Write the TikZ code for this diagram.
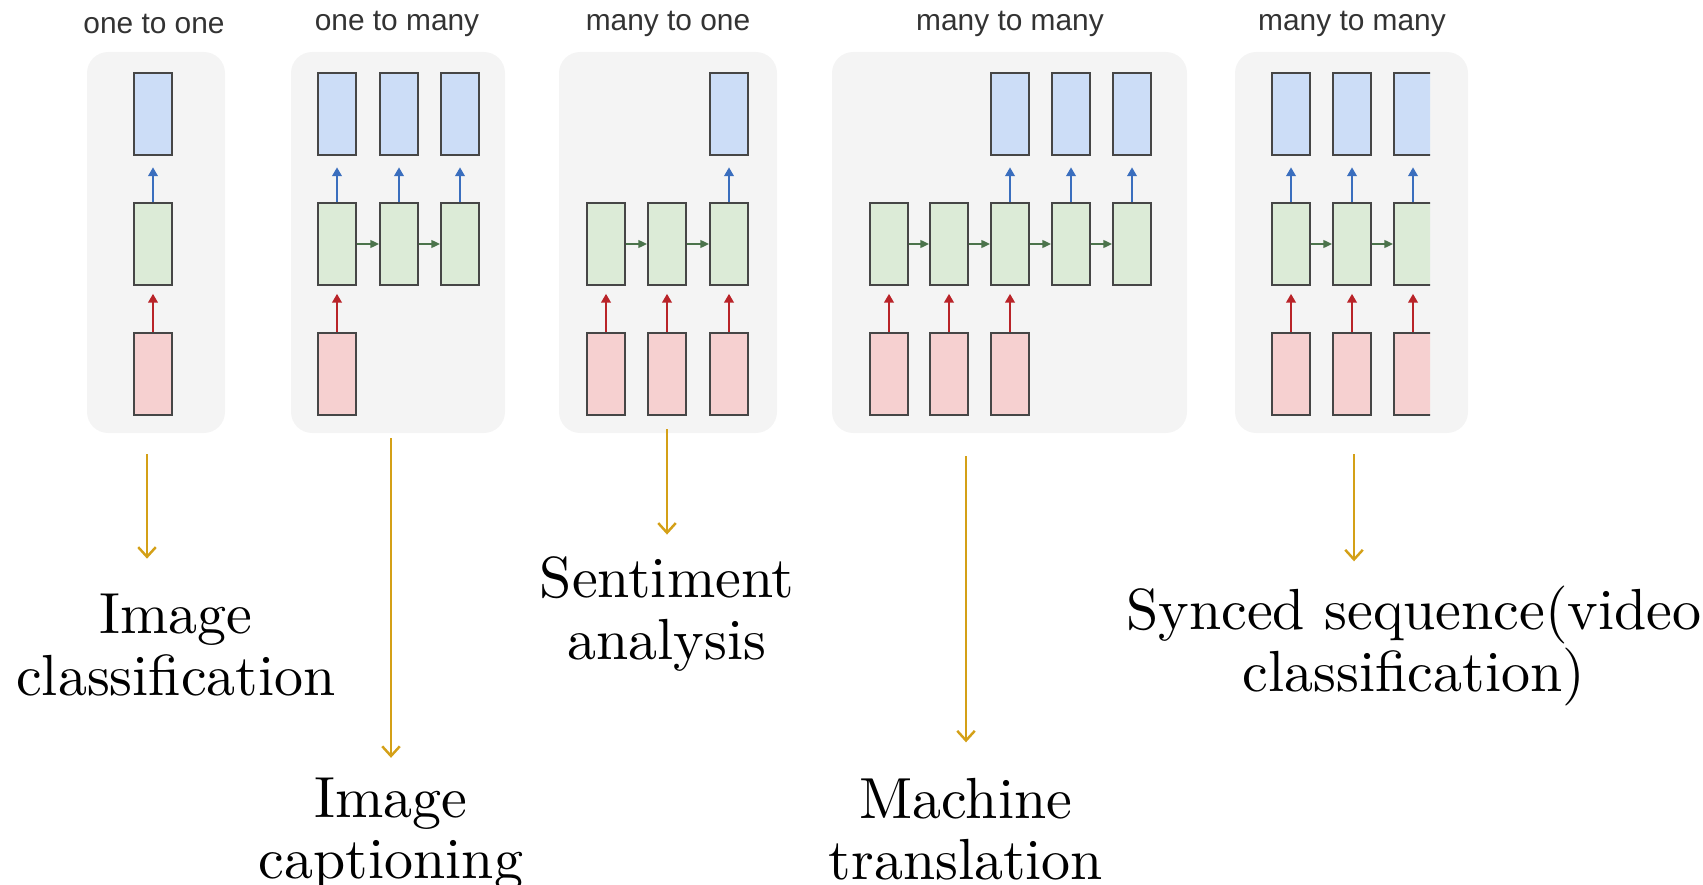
\documentclass[tikz,border=0pt]{standalone}
\usepackage{fontspec}
\usepackage{xcolor}
\usepackage{tikz}
\usetikzlibrary{arrows.meta}

\newfontfamily\titlefont{Liberation Sans}
\newfontfamily\labfont{lmroman10-regular.otf}

\definecolor{outblue}{RGB}{204,221,247}
\definecolor{hidgreen}{RGB}{220,235,215}
\definecolor{inred}{RGB}{246,208,208}
\definecolor{arrblue}{RGB}{58,110,190}
\definecolor{arrred}{RGB}{185,35,40}
\definecolor{arrgreen}{RGB}{75,115,75}
\definecolor{gold}{RGB}{212,160,23}
\definecolor{panelgray}{RGB}{244,244,244}
\definecolor{cellline}{RGB}{70,70,70}

\begin{document}
\begin{tikzpicture}[x=0.02cm,y=-0.02cm,
	cell/.style={rectangle,draw=cellline,line width=1.1pt,minimum width=0.76cm,minimum height=1.64cm,inner sep=0pt},
	yout/.style={cell,fill=outblue},
	hid/.style={cell,fill=hidgreen},
	xin/.style={cell,fill=inred},
	upblue/.style={draw=arrblue,line width=1pt,-{Triangle[length=5pt,width=5.5pt]},shorten >=6.5pt},
	upred/.style={draw=arrred,line width=1pt,-{Triangle[length=5pt,width=5.5pt]},shorten >=4.5pt},
	rec/.style={draw=arrgreen,line width=1pt,-{Triangle[length=5pt,width=4.5pt]}},
	task/.style={draw=gold,line width=1.4pt,-{Straight Barb[length=5.5pt,width=10pt]}},
	title/.style={font=\titlefont\fontsize{17}{20}\selectfont,text=black!80},
	lab/.style={align=center,inner sep=0pt,font=\labfont\fontsize{33}{35}\selectfont},
	panel/.style={fill=panelgray,rounded corners=12pt}]
			
			\useasboundingbox (0,0) rectangle (1703,885);
			
			% panels
			\fill[panel] (87,52) rectangle (225,433);
			\fill[panel] (291,52) rectangle (505,433);
			\fill[panel] (559,52) rectangle (777,433);
			\fill[panel] (832,52) rectangle (1187,433);
			\fill[panel] (1235,52) rectangle (1468,433);
			
			\node[title] (t1) at (154,24) {one to one};
			\node[title] (t2) at (397,24) {one to many};
			\node[title] (t3) at (668,24) {many to one};
			\node[title] (t4) at (1010,24) {many to many};
			\node[title] (t5) at (1352,24) {many to many};
			
			% one to one
			\node[yout] (a-y1) at (153,114) {};
			\node[hid] (a-h1) at (153,244) {};
			\node[xin] (a-x1) at (153,374) {};
			\draw[upred] (a-x1) -- (a-h1);
			\draw[upblue] (a-h1) -- (a-y1);
			
			% one to many
			\foreach \i/\x in {1/337,2/399,3/460} {
				\node[yout] (b-y\i) at (\x,114) {};
				\node[hid] (b-h\i) at (\x,244) {};
				\draw[upblue] (b-h\i) -- (b-y\i);
			}
			\node[xin] (b-x1) at (337,374) {};
			\draw[upred] (b-x1) -- (b-h1);
			\draw[rec] (b-h1) -- (b-h2);
			\draw[rec] (b-h2) -- (b-h3);
			
			% many to one
			\foreach \i/\x in {1/606,2/667,3/729} {
				\node[hid] (c-h\i) at (\x,244) {};
				\node[xin] (c-x\i) at (\x,374) {};
				\draw[upred] (c-x\i) -- (c-h\i);
			}
			\node[yout] (c-y3) at (729,114) {};
			\draw[upblue] (c-h3) -- (c-y3);
			\draw[rec] (c-h1) -- (c-h2);
			\draw[rec] (c-h2) -- (c-h3);
			
			% many to many (delayed)
			\foreach \i/\x in {1/889,2/949,3/1010,4/1071,5/1132}
				\node[hid] (d-h\i) at (\x,244) {};
			\foreach \i/\x in {1/889,2/949,3/1010} {
				\node[xin] (d-x\i) at (\x,374) {};
				\draw[upred] (d-x\i) -- (d-h\i);
			}
			\foreach \i/\x in {3/1010,4/1071,5/1132} {
				\node[yout] (d-y\i) at (\x,114) {};
				\draw[upblue] (d-h\i) -- (d-y\i);
			}
			\foreach \i/\j in {1/2,2/3,3/4,4/5}
				\draw[rec] (d-h\i) -- (d-h\j);
			
			% many to many (synced), cut off on the right
			\begin{scope}
				\clip (1230,40) rectangle (1430,440);
				\foreach \i/\x in {1/1291,2/1352,3/1413} {
					\node[yout] (e-y\i) at (\x,114) {};
					\node[hid] (e-h\i) at (\x,244) {};
					\node[xin] (e-x\i) at (\x,374) {};
					\draw[upred] (e-x\i) -- (e-h\i);
					\draw[upblue] (e-h\i) -- (e-y\i);
				}
				\draw[rec] (e-h1) -- (e-h2);
				\draw[rec] (e-h2) -- (e-h3);
			\end{scope}
			
			% tasks
			\node[lab] (l1) at (176,645) {Image\\classification};
			\node[lab] (l2) at (391,834) {Image\\captioning};
			\node[lab] (l3) at (667,614) {Sentiment\\analysis};
			\node[lab] (l4) at (966,829) {Machine\\translation};
			\node[lab] (l5) at (1414,646) {Synced sequence(video\\classification)};
			
			\coordinate (s1) at (147,454);
			\coordinate (s2) at (391,438);
			\coordinate (s3) at (667,429);
			\coordinate (s4) at (966,456);
			\coordinate (s5) at (1354,454);
			
			\draw[task,shorten >=20pt] (s1) -- (s1 |- l1.north);
			\draw[task,shorten >=11pt] (s2) -- (s2 |- l2.north);
			\draw[task,shorten >=12.5pt] (s3) -- (s3 |- l3.north);
			\draw[task,shorten >=20pt] (s4) -- (s4 |- l4.north);
			\draw[task,shorten >=14pt] (s5) -- (s5 |- l5.north);
			
		\end{tikzpicture}
\end{document}
